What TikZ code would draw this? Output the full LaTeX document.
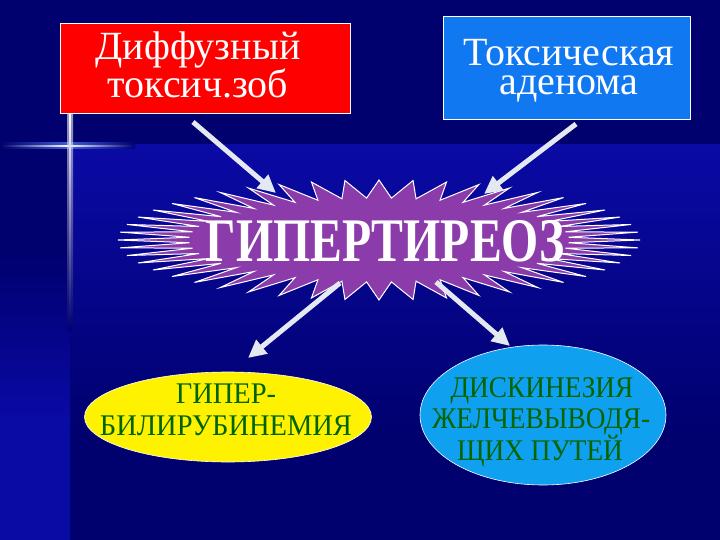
\documentclass[tikz,border=0pt]{standalone}
\usepackage{fontspec}
\usepackage{graphicx}
\setmainfont{Liberation Serif}
\usetikzlibrary{arrows.meta,shapes.geometric}
\definecolor{bgdark}{RGB}{0,0,110}
\definecolor{bgbright}{RGB}{10,10,165}
\definecolor{boxred}{RGB}{255,0,0}
\definecolor{boxblue}{RGB}{16,120,240}
\definecolor{burst}{RGB}{140,60,170}
\definecolor{ellblue}{RGB}{16,160,240}
\definecolor{txtgreen}{RGB}{0,100,0}
\definecolor{arrowc}{RGB}{228,232,240}
\definecolor{glow}{RGB}{90,130,255}
\begin{document}
\begin{tikzpicture}[x=1pt,y=-1pt,
  topbox/.style={draw=white, line width=1pt, inner sep=0pt},
  toptxt/.style={text=white, anchor=base, inner sep=0pt, align=center, font=\fontsize{40}{33}\selectfont},
  ell/.style={ellipse, draw=white, line width=0.6pt, inner sep=0pt},
  elltxt/.style={text=txtgreen, anchor=base, inner sep=0pt, font=\fontsize{30}{30}\selectfont},
  flow/.style={draw=arrowc, line width=5pt, -{Triangle[length=18pt,width=17pt]}}]
\useasboundingbox (0,0) rectangle (720,540);
% background
\fill[bgdark] (0,0) rectangle (720,540);
\shade[top color=bgbright, bottom color=bgdark] (70,145) rectangle (720,440);
\shade[top color=bgdark, bottom color=bgbright] (0,250) rectangle (70,420);
\fill[bgbright] (0,420) rectangle (70,540);
% sparkle
\shade[left color=bgdark, right color=bgdark, middle color=glow, opacity=0.7] (0,143) rectangle (135,149);
\shade[left color=bgdark, right color=bgdark, middle color=white] (0,145.3) rectangle (135,146.7);
\shade[top color=white, bottom color=bgdark, opacity=0.6] (67,114) rectangle (73,330);
\shade[top color=white, bottom color=bgdark] (69.3,114) rectangle (70.7,330);
% top boxes
\node[topbox, fill=boxred, minimum width=290pt, minimum height=90pt] (dtz) at (205,69) {};
\node[toptxt] (dtzt) at (198,98) {Диффузный\\токсич.зоб};
\node[topbox, fill=boxblue, minimum width=247pt, minimum height=103pt] (ta) at (566.5,68.5) {};
\node[toptxt] (tat) at (569,95) {Токсическая\\[-4pt]аденома};
% starburst
\draw[fill=burst, draw=white, line width=1pt]
  plot[samples at={0,...,95}] ({379+ifthenelse(mod(\x,2)==0,261,190)*cos(\x*3.75)},
                                {240+ifthenelse(mod(\x,2)==0,60,42)*sin(\x*3.75)}) -- cycle;
\node[text=white] (hyp) at (385,241) {\scalebox{0.77}[1]{\fontsize{62}{62}\selectfont\bfseries ГИПЕРТИРЕОЗ}};
% ellipses
\node[ell, fill=yellow, minimum width=287pt, minimum height=90pt] (bil) at (228,417) {};
\node[elltxt] (bil1) at (226,403) {\scalebox{0.95}[1]{ГИПЕР-}};
\node[elltxt] (bil2) at (226,435) {\scalebox{0.95}[1]{БИЛИРУБИНЕМИЯ}};
\node[ell, fill=ellblue, minimum width=246pt, minimum height=140pt] (dis) at (543,415) {};
\node[elltxt] (dis1) at (542,397) {\scalebox{0.91}[1]{ДИСКИНЕЗИЯ}};
\node[elltxt] (dis2) at (541,428) {\scalebox{0.91}[1]{ЖЕЛЧЕВЫВОДЯ-}};
\node[elltxt] (dis3) at (540,460) {\scalebox{0.91}[1]{ЩИХ ПУТЕЙ}};
% arrows
\coordinate (a1s) at (193,122); \coordinate (a1e) at (276,193);
\coordinate (a2s) at (576,124); \coordinate (a2e) at (484,194);
\coordinate (a3s) at (340,283); \coordinate (a3e) at (248,358);
\coordinate (a4s) at (436,282); \coordinate (a4e) at (510,346);
\draw[flow] (a1s) -- (a1e);
\draw[flow] (a2s) -- (a2e);
\draw[flow] (a3s) -- (a3e);
\draw[flow] (a4s) -- (a4e);
\end{tikzpicture}
\end{document}
